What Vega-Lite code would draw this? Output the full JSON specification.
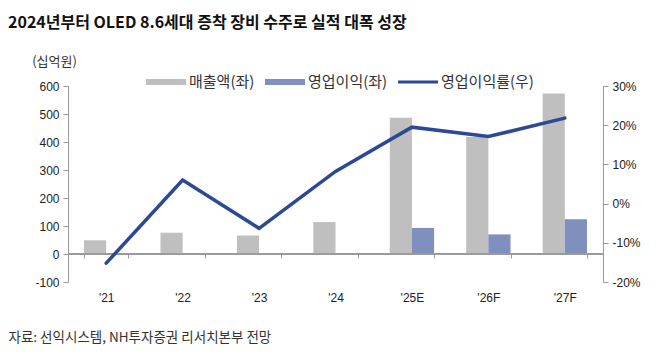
{
  "$schema": "https://vega.github.io/schema/vega-lite/v6.json",
  "autosize": {"type": "none"},
  "width": 535,
  "height": 196,
  "padding": {"left": 68, "top": 86, "right": 67, "bottom": 72},
  "background": "white",
  "title": {
    "text": "2024년부터 OLED 8.6세대 증착 장비 수주로 실적 대폭 성장",
    "anchor": "start",
    "frame": "group",
    "dx": -60,
    "offset": 24,
    "font": "Noto Sans CJK KR",
    "fontSize": 16,
    "fontWeight": "bold",
    "color": "#111111"
  },
  "datasets": {
    "bars": [
      {"year": "'21", "series": "매출액(좌)", "value": 49},
      {"year": "'21", "series": "영업이익(좌)", "value": -3},
      {"year": "'22", "series": "매출액(좌)", "value": 76},
      {"year": "'22", "series": "영업이익(좌)", "value": 2},
      {"year": "'23", "series": "매출액(좌)", "value": 66},
      {"year": "'23", "series": "영업이익(좌)", "value": -1},
      {"year": "'24", "series": "매출액(좌)", "value": 114},
      {"year": "'24", "series": "영업이익(좌)", "value": 2},
      {"year": "'25E", "series": "매출액(좌)", "value": 487},
      {"year": "'25E", "series": "영업이익(좌)", "value": 93},
      {"year": "'26F", "series": "매출액(좌)", "value": 418},
      {"year": "'26F", "series": "영업이익(좌)", "value": 70},
      {"year": "'27F", "series": "매출액(좌)", "value": 573},
      {"year": "'27F", "series": "영업이익(좌)", "value": 124}
    ],
    "margin": [
      {"year": "'21", "margin": -15.2},
      {"year": "'22", "margin": 6.0},
      {"year": "'23", "margin": -6.3},
      {"year": "'24", "margin": 8.2},
      {"year": "'25E", "margin": 19.5},
      {"year": "'26F", "margin": 17.1},
      {"year": "'27F", "margin": 21.8}
    ]
  },
  "config": {
    "view": {"stroke": null},
    "axis": {
      "labelFont": "Liberation Sans",
      "labelFontSize": 12,
      "labelColor": "#222222",
      "domainColor": "#9a9a9a",
      "tickColor": "#9a9a9a",
      "grid": false
    },
    "legend": {
      "labelFont": "Noto Sans CJK KR",
      "labelFontSize": 15,
      "labelColor": "#333333"
    }
  },
  "layer": [
    {
      "data": {"name": "bars"},
      "layer": [
        {
          "mark": {"type": "bar"},
          "encoding": {
            "x": {
              "field": "year",
              "type": "nominal",
              "sort": null,
              "scale": {"paddingInner": 0.42, "paddingOuter": 0.21},
              "axis": {
                "orient": "bottom",
                "offset": -28,
                "labelAngle": 0,
                "domain": true,
                "domainColor": "#9a9a9a",
                "ticks": true,
                "tickBand": "extent",
                "tickSize": 4,
                "tickWidth": 1,
                "tickColor": "#9a9a9a",
                "labelPadding": 34,
                "title": "자료: 선익시스템, NH투자증권 리서치본부 전망",
                "titleFont": "Noto Sans CJK KR",
                "titleFontSize": 13.5,
                "titleFontWeight": "normal",
                "titleColor": "#333333",
                "titleAnchor": "start",
                "titleAlign": "left",
                "titleBaseline": "middle",
                "titleX": -60,
                "titleY": 83
              }
            },
            "xOffset": {"field": "series", "type": "nominal", "sort": ["매출액(좌)", "영업이익(좌)"]},
            "y": {
              "field": "value",
              "type": "quantitative",
              "scale": {"domain": [-100, 600], "nice": false, "zero": false},
              "axis": {
                "orient": "left",
                "values": [-100, 0, 100, 200, 300, 400, 500, 600],
                "labelExpr": "'' + datum.value",
                "labelOverlap": false,
                "tickSize": 5,
                "labelPadding": 4,
                "title": "(십억원)",
                "titleFont": "Noto Sans CJK KR",
                "titleFontSize": 13,
                "titleFontWeight": "normal",
                "titleColor": "#333333",
                "titleAngle": 0,
                "titleAlign": "center",
                "titleBaseline": "middle",
                "titleX": -14,
                "titleY": -25
              }
            },
            "color": {
              "field": "series",
              "type": "nominal",
              "scale": {
                "domain": ["매출액(좌)", "영업이익(좌)", "영업이익률(우)"],
                "range": ["#bfbfbf", "#7f8fbe", "#2b4a93"]
              },
              "legend": {
                "title": null,
                "orient": "none",
                "direction": "horizontal",
                "legendX": 78,
                "legendY": -24,
                "symbolSize": 1600,
                "labelOffset": 3,
                "columnPadding": 10,
                "symbolStrokeWidth": 0,
                "encode": {
                  "symbols": {
                    "update": {
                      "shape": [
                        {"test": "datum.value === '영업이익률(우)'", "value": "M-1,-0.08L1,-0.08L1,0.08L-1,0.08Z"},
                        {"value": "M-1,-0.15L1,-0.15L1,0.15L-1,0.15Z"}
                      ],
                      "fill": {"scale": "color", "field": "value"},
                      "strokeWidth": {"value": 0},
                      "opacity": {"value": 1}
                    }
                  }
                }
              }
            }
          }
        },
        {
          "mark": {"type": "rule", "color": "#9a9a9a", "strokeWidth": 1},
          "encoding": {
            "y": {
              "datum": 0,
              "type": "quantitative",
              "scale": {"domain": [-100, 600], "nice": false, "zero": false},
              "axis": {
                "orient": "left",
                "values": [-100, 0, 100, 200, 300, 400, 500, 600],
                "labelExpr": "'' + datum.value",
                "labelOverlap": false,
                "tickSize": 5,
                "labelPadding": 4,
                "title": "(십억원)",
                "titleFont": "Noto Sans CJK KR",
                "titleFontSize": 13,
                "titleFontWeight": "normal",
                "titleColor": "#333333",
                "titleAngle": 0,
                "titleAlign": "center",
                "titleBaseline": "middle",
                "titleX": -14,
                "titleY": -25
              }
            }
          }
        }
      ]
    },
    {
      "data": {"name": "margin"},
      "mark": {"type": "line", "strokeWidth": 3.5, "strokeCap": "round", "strokeJoin": "miter"},
      "encoding": {
        "x": {
          "field": "year",
          "type": "nominal",
          "sort": null
        },
        "y": {
          "field": "margin",
          "type": "quantitative",
          "scale": {"domain": [-20, 30], "nice": false, "zero": false},
          "axis": {
            "orient": "right",
            "values": [-20, -10, 0, 10, 20, 30],
            "labelExpr": "datum.value + '%'",
            "tickSize": 5,
            "labelPadding": 4,
            "title": null
          }
        },
        "color": {"datum": "영업이익률(우)"}
      }
    }
  ],
  "resolve": {"scale": {"y": "independent"}}
}
